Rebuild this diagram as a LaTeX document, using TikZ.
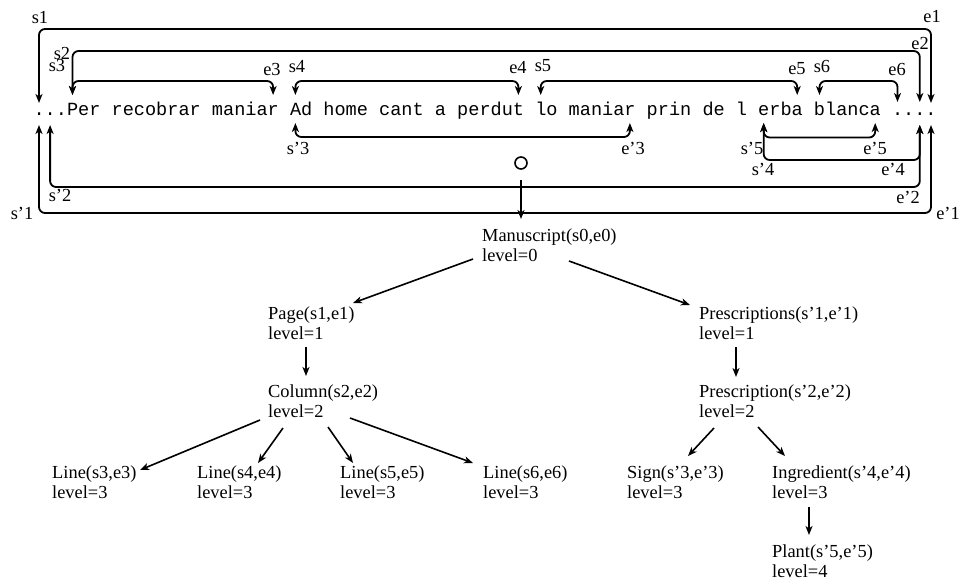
\documentclass[tikz,border=0pt]{standalone}
\usepackage{fontspec}
\setmainfont{Liberation Serif}
\newfontfamily\monofnt{Liberation Mono}
\usetikzlibrary{arrows.meta}
\begin{document}
\frenchspacing
\begin{tikzpicture}[x=1pt,y=-1pt,
  mytip/.tip={Stealth[length=9pt,width=7pt,inset=2.5pt]},
  lab/.style={font=\fontsize{18.4}{20.5}\selectfont, inner sep=0pt},
  tn/.style={font=\fontsize{18.4}{20.5}\selectfont, inner sep=0pt, align=left, anchor=base west},
  brk/.style={line width=1.8pt, rounded corners=6pt, mytip-mytip},
  arr/.style={line width=1.6pt, -mytip}]
\useasboundingbox (0,0) rectangle (960,581);

% text line
\node[anchor=base west, inner sep=0pt, font=\monofnt\fontsize{18.58}{20}\selectfont] (txt) at (33.4,115)
  {...Per recobrar maniar Ad home cant a perdut lo maniar prin de l erba blanca ....};

% levels
\coordinate (yA) at (0,29);
\coordinate (yB) at (0,51);
\coordinate (yC) at (0,81);
\coordinate (yD) at (0,213);
\coordinate (yE) at (0,187);
\coordinate (yF) at (0,137);
\coordinate (yG) at (0,160);
\coordinate (yH) at (0,137.5);

% bracket ends (top)
\coordinate (ts1) at (39,103);   \coordinate (te1) at (931,103);
\coordinate (ts2) at (72.5,95);  \coordinate (te2) at (919.8,102);
\coordinate (ts3) at (72.5,95);  \coordinate (te3) at (273.1,95);
\coordinate (ts4) at (295.4,95); \coordinate (te4) at (518.4,95);
\coordinate (ts5) at (540.7,95); \coordinate (te5) at (797.2,95);
\coordinate (ts6) at (819.5,95); \coordinate (te6) at (897.5,102);
% bracket ends (bottom)
\coordinate (bs1) at (39,125);    \coordinate (be1) at (931,125);
\coordinate (bs2) at (50.1,125);  \coordinate (be2) at (919.8,125);
\coordinate (bs3) at (295.4,123); \coordinate (be3) at (629.9,123);
\coordinate (bs4) at (763.7,123); \coordinate (be4) at (919.8,125);
\coordinate (bs5) at (763.7,123); \coordinate (be5) at (875.2,123);

\draw[brk] (ts1) -- (ts1 |- yA) -| (te1);
\draw[brk] (ts2) -- (ts2 |- yB) -| (te2);
\draw[brk] (ts3) -- (ts3 |- yC) -| (te3);
\draw[brk] (ts4) -- (ts4 |- yC) -| (te4);
\draw[brk] (ts5) -- (ts5 |- yC) -| (te5);
\draw[brk] (ts6) -- (ts6 |- yC) -| (te6);
\draw[brk] (bs1) -- (bs1 |- yD) -| (be1);
\draw[brk] (bs2) -- (bs2 |- yE) -| (be2);
\draw[brk] (bs3) -- (bs3 |- yF) -| (be3);
\draw[brk] (bs4) -- (bs4 |- yG) -| (be4);
\draw[brk] (bs5) -- (bs5 |- yH) -| (be5);

% labels
\node[lab] (Ls1) at (40,18) {s1};
\node[lab] (Le1) at (932,17) {e1};
\node[lab] (Ls2) at (62,53) {s2};
\node[lab] (Ls3) at (57,65) {s3};
\node[lab] (Le2) at (920,43) {e2};
\node[lab] (Le3) at (272,69) {e3};
\node[lab] (Ls4) at (297,67) {s4};
\node[lab] (Le4) at (518,68) {e4};
\node[lab] (Ls5) at (543,66) {s5};
\node[lab] (Le5) at (797,69) {e5};
\node[lab] (Ls6) at (822,66) {s6};
\node[lab] (Le6) at (897,69) {e6};
\node[lab] (Lsp3) at (298,148) {s'3};
\node[lab] (Lep3) at (633,148) {e'3};
\node[lab] (Lsp5) at (752,148) {s'5};
\node[lab] (Lep5) at (875,148) {e'5};
\node[lab] (Lsp4) at (763,169) {s'4};
\node[lab] (Lep4) at (893,169) {e'4};
\node[lab] (Lsp2) at (60,195) {s'2};
\node[lab] (Lep2) at (908,197) {e'2};
\node[lab] (Lsp1) at (22,213) {s'1};
\node[lab] (Lep1) at (948,213) {e'1};

% circle
\node[circle, draw, line width=1.6pt, minimum size=12pt, inner sep=0pt] (circ) at (521,163) {};

% tree (base anchor = baseline of the second line)
\node[tn] (man) at (482,261.5) {Manuscript(s0,e0)\\level=0};
\node[tn] (page) at (268,339.5) {Page(s1,e1)\\level=1};
\node[tn] (prs) at (699,339.5) {Prescriptions(s'1,e'1)\\level=1};
\node[tn] (col) at (268,417.5) {Column(s2,e2)\\level=2};
\node[tn] (pr) at (699,417.5) {Prescription(s'2,e'2)\\level=2};
\node[tn] (l3) at (52,498.5) {Line(s3,e3)\\level=3};
\node[tn] (l4) at (197,498.5) {Line(s4,e4)\\level=3};
\node[tn] (l5) at (340,498.5) {Line(s5,e5)\\level=3};
\node[tn] (l6) at (483,498.5) {Line(s6,e6)\\level=3};
\node[tn] (sign) at (627,498.5) {Sign(s'3,e'3)\\level=3};
\node[tn] (ingr) at (772,498.5) {Ingredient(s'4,e'4)\\level=3};
\node[tn] (plant) at (772,577.5) {Plant(s'5,e'5)\\level=4};

\draw[arr, shorten <=10pt] (circ.south) -- ([shift={(39,-42.5)}]man.base west);
\draw[arr] ([shift={(-9,-2.5)}]man.base west) -- ([shift={(85,-36.5)}]page.base west);
\draw[arr] ([shift={(87,-0.5)}]man.base west) -- ([shift={(-9,-34.5)}]prs.base west);
\draw[arr] ([shift={(38,7.5)}]page.base west) -- ([shift={(38,-41.5)}]col.base west);
\draw[arr] ([shift={(37,7.5)}]prs.base west) -- ([shift={(37,-40.5)}]pr.base west);
\draw[arr] ([shift={(-8,2.5)}]col.base west) -- ([shift={(88,-28.5)}]l3.base west);
\draw[arr] ([shift={(15,10.5)}]col.base west) -- ([shift={(61,-35.5)}]l4.base west);
\draw[arr] ([shift={(60,9.5)}]col.base west) -- ([shift={(13,-35.5)}]l5.base west);
\draw[arr] ([shift={(82,0.5)}]col.base west) -- ([shift={(-10,-35.5)}]l6.base west);
\draw[arr] ([shift={(15,10.5)}]pr.base west) -- ([shift={(61,-42.5)}]sign.base west);
\draw[arr] ([shift={(59,9.5)}]pr.base west) -- ([shift={(13,-42.5)}]ingr.base west);
\draw[arr] ([shift={(37,8.5)}]ingr.base west) -- ([shift={(37,-42.5)}]plant.base west);
\end{tikzpicture}
\end{document}
